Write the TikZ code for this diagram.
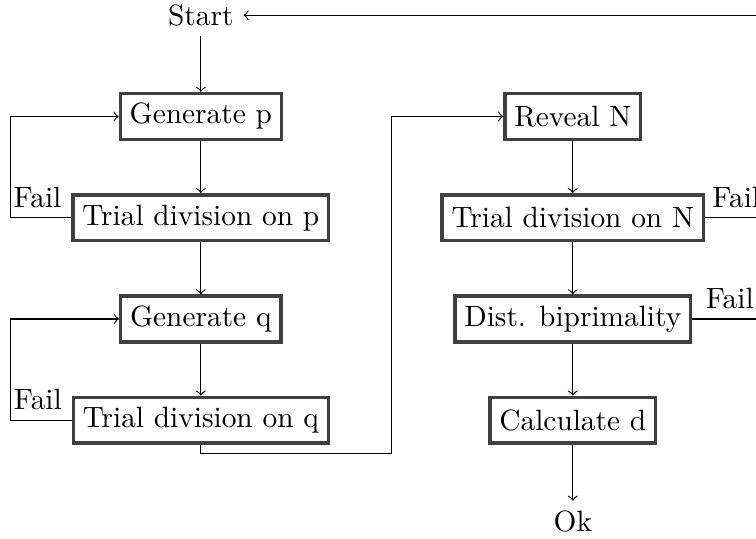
\documentclass[tikz,border=0pt]{standalone}
\begin{document}
\begin{tikzpicture}[font=\fontsize{10.4}{12.5}\selectfont,
stage/.style={draw=black!75,very thick,fill=white,minimum height=16.2pt},
flow/.style={->}]
\useasboundingbox (-2.50,0.19) rectangle (6.91,-6.51);
\coordinate (lx) at (-2.37,0);
\coordinate (rx) at (7.05,0);
\coordinate (jog) at (2.37,-5.45);
\node (start) at (0,0) {Start};
\node[stage] (gp) at (0,-1.26) {Generate p};
\node[stage] (tp) at (0,-2.52) {Trial division on p};
\node[stage] (gq) at (0,-3.78) {Generate q};
\node[stage] (tq) at (0,-5.04) {Trial division on q};
\node[stage] (rv) at (4.63,-1.26) {Reveal N};
\node[stage] (tn) at (4.63,-2.52) {Trial division on N};
\node[stage] (db) at (4.63,-3.78) {Dist. biprimality};
\node[stage] (cd) at (4.63,-5.04) {Calculate d};
\node (ok) at (4.63,-6.30) {Ok};
% left column
\draw[flow] (start)--(gp);
\draw[flow] (gp)--(tp);
\draw[flow] (tp.west) node[above left] {Fail} -- (tp.west -| lx) |- (gp.west);
\draw[flow] (tp)--(gq);
\draw[flow] (gq)--(tq);
\draw[flow] (tq.west) node[above left] {Fail} -- (tq.west -| lx) |- (gq.west);
\draw[flow] (tq.south) |- (jog) |- (rv.west);
% right column
\draw[flow] (rv)--(tn);
\draw[flow] (tn)--(db);
\draw[flow] (db)--(cd);
\draw[flow] (cd)--(ok);
\draw (tn.east) -- node[above] {Fail} (tn.east -| rx);
\draw[flow] (db.east) -- node[above] {Fail} (db.east -| rx) |- (start.east);
\end{tikzpicture}
\end{document}
